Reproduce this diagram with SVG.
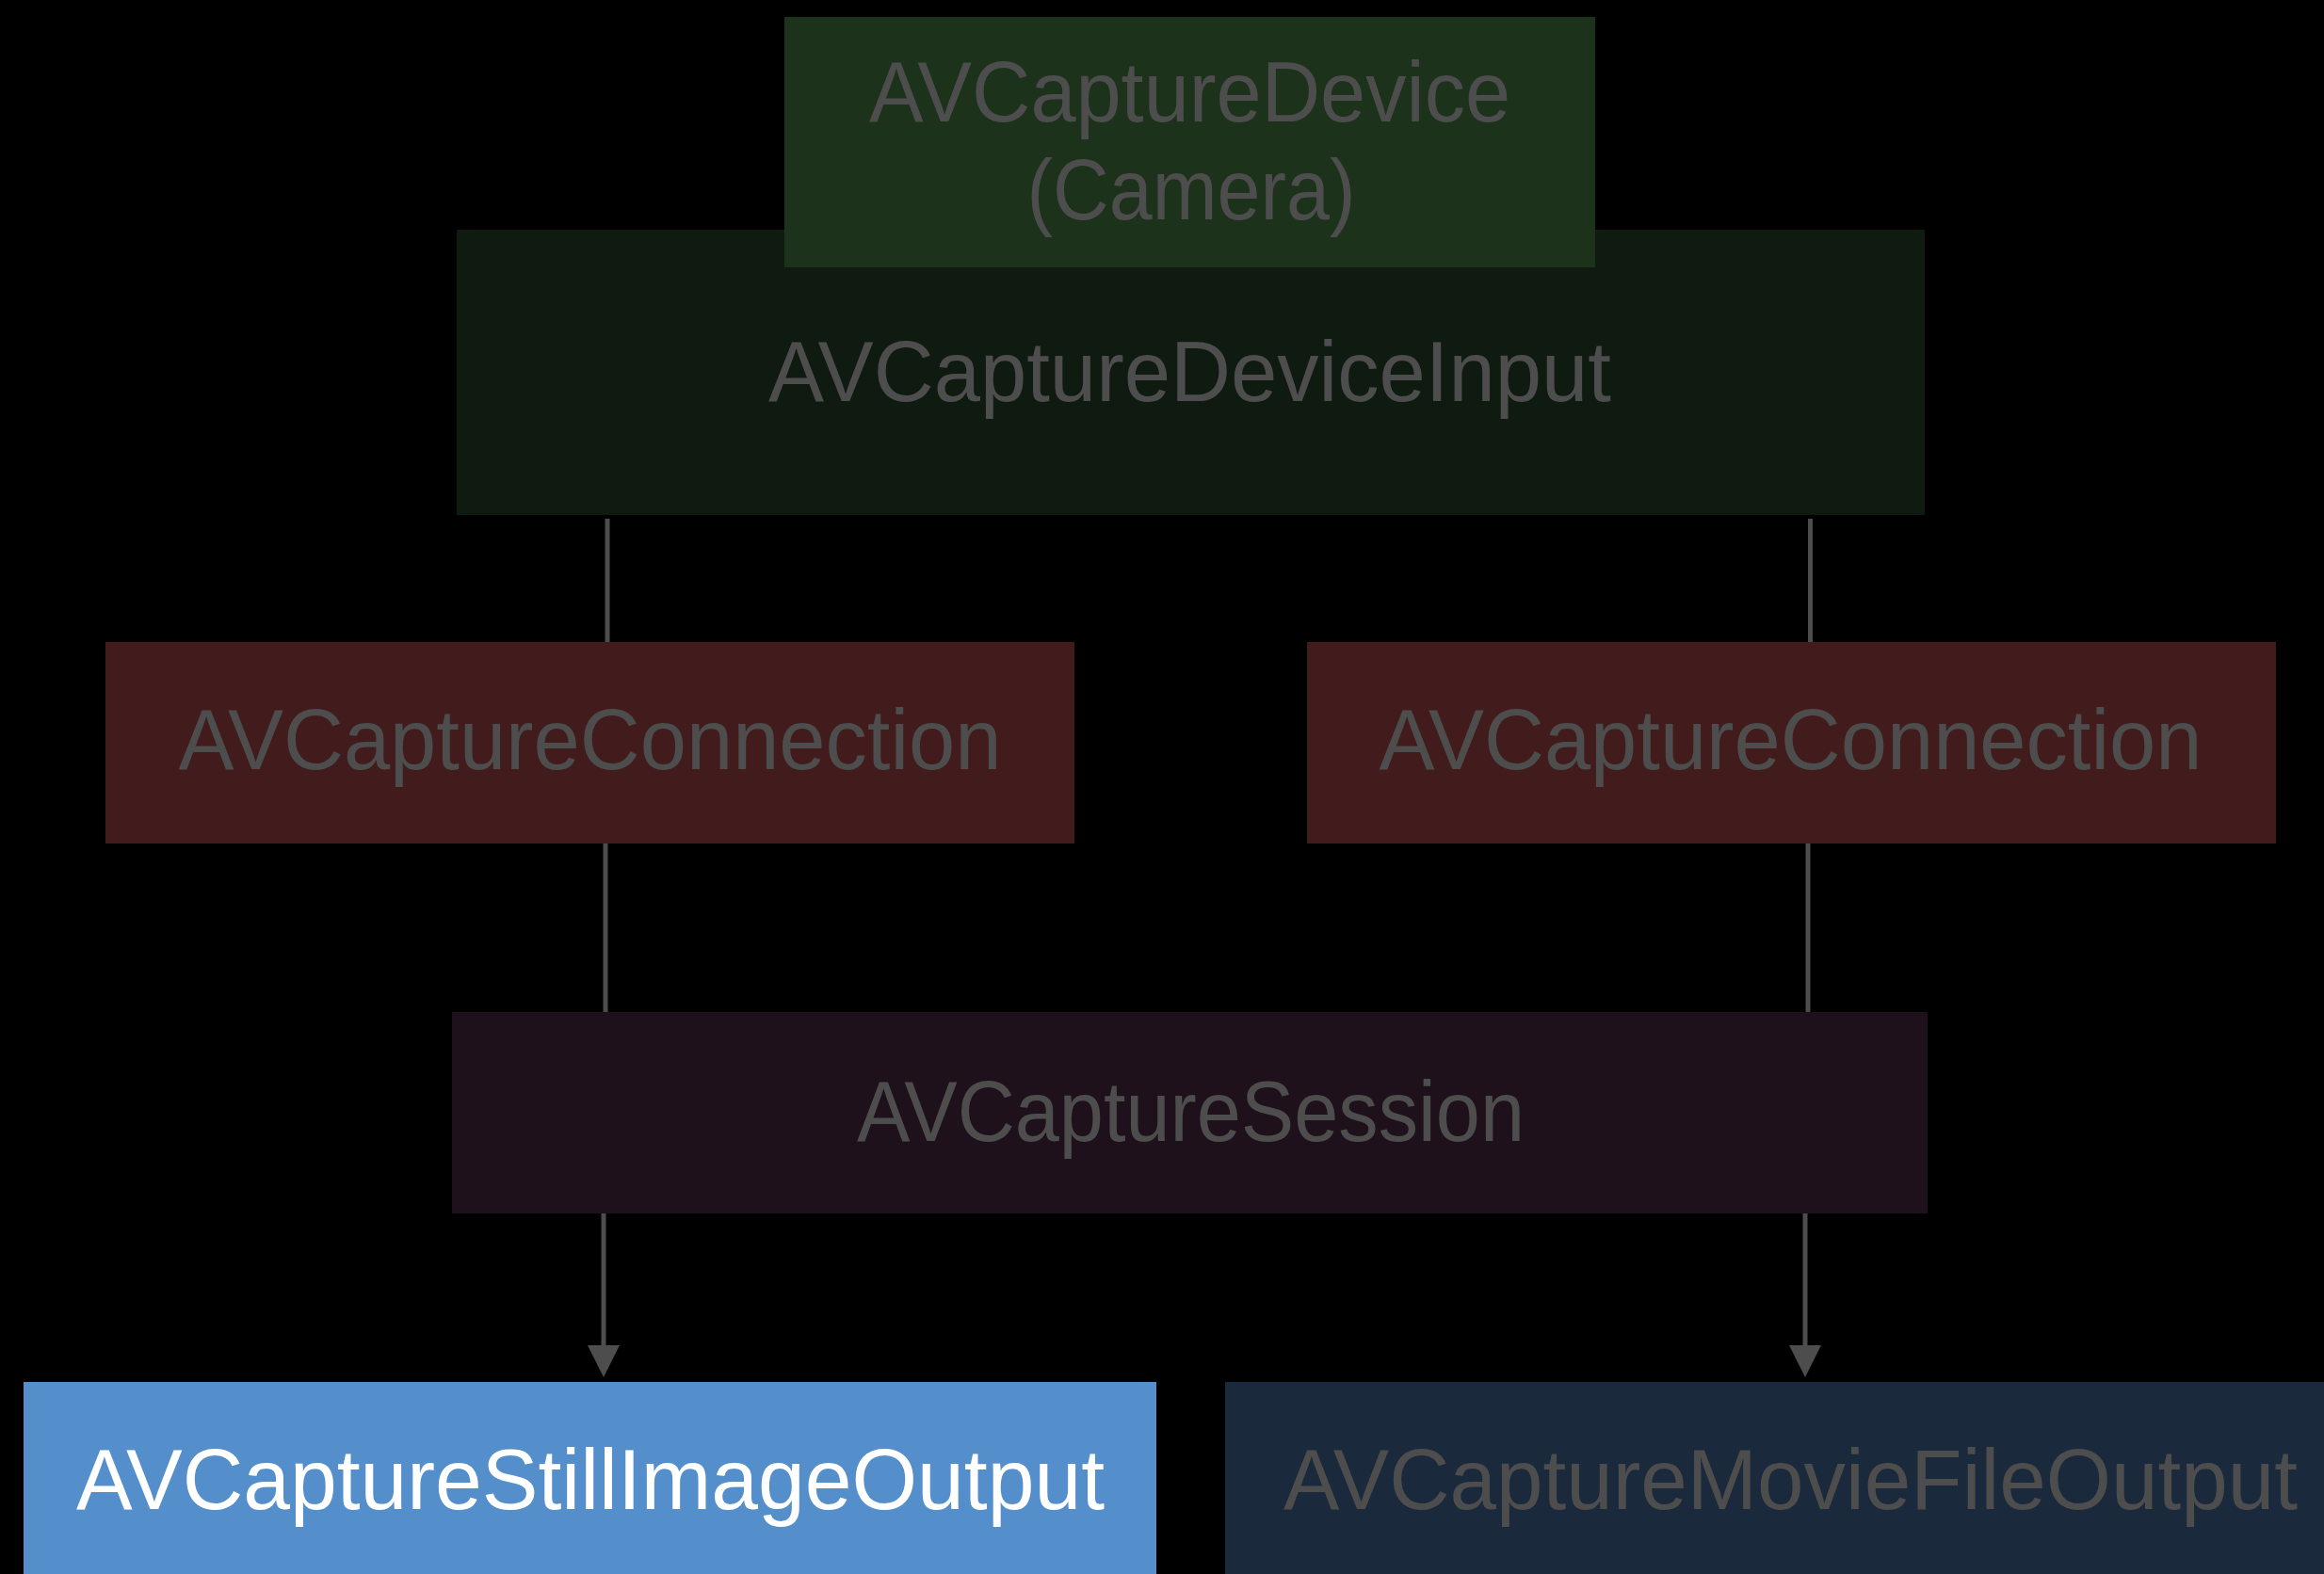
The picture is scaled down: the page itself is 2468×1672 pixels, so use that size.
<svg xmlns="http://www.w3.org/2000/svg" width="2468" height="1672" viewBox="0 0 2468 1672">
  <style>
    .lbl { font-family: "Liberation Sans", Arial, sans-serif; font-size: 90px; fill: #4d4d4d; text-anchor: middle; }
    .white { fill: #ffffff; }
    .conn { stroke: #4d4d4d; stroke-width: 5; fill: none; }
  </style>
  <defs>
    <marker id="arrow" markerUnits="userSpaceOnUse" markerWidth="34" markerHeight="34" viewBox="0 0 34 34" refX="0" refY="17" orient="auto">
      <path d="M0,0 L34,17 L0,34 z" fill="#4d4d4d"/>
    </marker>
  </defs>
  <rect x="0" y="0" width="2468" height="1672" fill="#000000"/>

  <g id="node-device-input">
    <rect x="485" y="244" width="1559" height="303" fill="#0f1b11"/>
    <text class="lbl" x="1263.5" y="426" textLength="895" lengthAdjust="spacingAndGlyphs">AVCaptureDeviceInput</text>
  </g>
  <g id="node-device">
    <rect x="833" y="18" width="861" height="266" fill="#1c321a"/>
    <text class="lbl" x="1263.5" y="129" textLength="681" lengthAdjust="spacingAndGlyphs">AVCaptureDevice</text>
    <text class="lbl" x="1265" y="233" textLength="349" lengthAdjust="spacingAndGlyphs">(Camera)</text>
  </g>
  <g id="node-connection-left">
    <rect x="112" y="682" width="1029" height="214" fill="#421c1c"/>
    <text class="lbl" x="626.5" y="817" textLength="874" lengthAdjust="spacingAndGlyphs">AVCaptureConnection</text>
  </g>
  <g id="node-connection-right">
    <rect x="1388" y="682" width="1029" height="214" fill="#421c1c"/>
    <text class="lbl" x="1901.5" y="817" textLength="874" lengthAdjust="spacingAndGlyphs">AVCaptureConnection</text>
  </g>
  <g id="node-session">
    <rect x="480" y="1075" width="1567" height="214" fill="#1f111b"/>
    <text class="lbl" x="1264.5" y="1212" textLength="709" lengthAdjust="spacingAndGlyphs">AVCaptureSession</text>
  </g>
  <g id="node-still-image-output">
    <rect x="25" y="1468" width="1203" height="204" fill="#548fcc"/>
    <text class="lbl white" x="627" y="1603" textLength="1092" lengthAdjust="spacingAndGlyphs">AVCaptureStillImageOutput</text>
  </g>
  <g id="node-movie-file-output">
    <rect x="1301" y="1468" width="1167" height="204" fill="#1a293b"/>
    <text class="lbl" x="1901.5" y="1603" textLength="1077" lengthAdjust="spacingAndGlyphs">AVCaptureMovieFileOutput</text>
  </g>

  <g id="connectors">
    <line class="conn" x1="645" y1="551" x2="645" y2="682"/>
    <line class="conn" x1="643" y1="896" x2="643" y2="1075"/>
    <line class="conn" x1="641" y1="1289" x2="641" y2="1429" marker-end="url(#arrow)"/>
    <line class="conn" x1="1922.5" y1="551" x2="1922.5" y2="682"/>
    <line class="conn" x1="1920" y1="896" x2="1920" y2="1075"/>
    <line class="conn" x1="1917" y1="1289" x2="1917" y2="1429" marker-end="url(#arrow)"/>
  </g>
</svg>
